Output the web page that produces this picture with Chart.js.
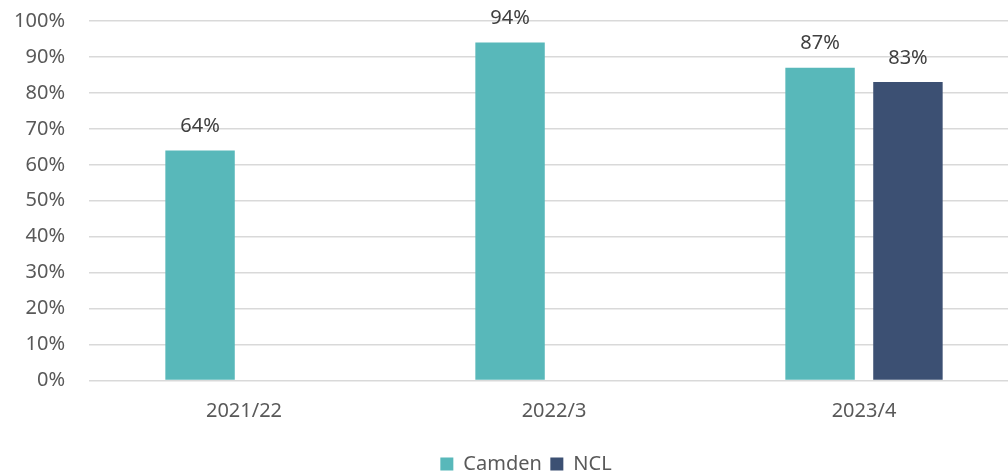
<!DOCTYPE html>
<html>
<head>
<meta charset="utf-8">
<script src="https://cdn.jsdelivr.net/npm/chart.js@4"></script>
<style>
  html, body { margin: 0; padding: 0; background: #fff; overflow: hidden; }
  #wrap { width: 1052px; height: 473px; position: relative; }
</style>
</head>
<body>
<div id="wrap"><canvas id="chart"></canvas></div>
<script>
// data
const years = ["2021/22", "2022/3", "2023/4"];
const camden = [64, 94, 87];
const ncl = [null, null, 83];
const yTicks = [0, 10, 20, 30, 40, 50, 60, 70, 80, 90, 100];

const FONT = "'Noto Sans', sans-serif";

// value labels above each bar
const valueLabels = {
  id: "valueLabels",
  afterDatasetsDraw(chart) {
    const ctx = chart.ctx;
    ctx.save();
    ctx.font = "20px " + FONT;
    ctx.fillStyle = "#404040";
    ctx.textAlign = "center";
    ctx.textBaseline = "middle";
    chart.data.datasets.forEach((ds, i) => {
      chart.getDatasetMeta(i).data.forEach((bar, j) => {
        const v = ds.data[j];
        if (v == null) return;
        ctx.fillText(v + "%", bar.x, bar.y - 24);
      });
    });
    ctx.restore();
  },
};

// push the legend a bit lower, close to the bottom edge
const legendShift = {
  id: "legendShift",
  afterLayout(chart) {
    chart.legend.top += 11;
    chart.legend.bottom += 11;
  },
};

const chart = new Chart(document.getElementById("chart"), {
  type: "bar",
  data: {
    labels: years,
    datasets: [
      {
        label: "Camden",
        data: camden,
        backgroundColor: "#58B8BA",
        categoryPercentage: 0.567,
        barPercentage: 0.79,
      },
      {
        label: "NCL",
        data: ncl,
        backgroundColor: "#3C5073",
        categoryPercentage: 0.567,
        barPercentage: 0.79,
      },
    ],
  },
  options: {
    responsive: true,
    maintainAspectRatio: false,
    animation: false,
    layout: { padding: { top: 21, left: 0, right: 0, bottom: 0 } },
    plugins: {
      legend: {
        position: "bottom",
        labels: {
          font: { family: FONT, size: 20 },
          color: "#595959",
          boxWidth: 13,
          boxHeight: 13,
          padding: 8.5,
        },
      },
      tooltip: { enabled: false },
    },
    scales: {
      x: {
        grid: { display: false },
        border: { display: false },
        ticks: {
          font: { family: FONT, size: 20 },
          color: "#595959",
          padding: 11,
        },
      },
      y: {
        min: 0,
        max: 100,
        afterFit: (scale) => {
          scale.width = 89;
          // tick padding is only meant for the horizontal gap
          scale.paddingTop = 0;
          scale.paddingBottom = 0;
        },
        afterBuildTicks: (scale) => {
          scale.ticks = yTicks.map((v) => ({ value: v }));
        },
        grid: { color: "#d9d9d9", lineWidth: 1.5, drawTicks: false },
        border: { display: false },
        ticks: {
          font: { family: FONT, size: 20 },
          color: "#595959",
          padding: 24,
          callback: (v) => v + "%",
        },
      },
      // empty spacer on the right so the plot runs past the window edge
      spacer: {
        type: "linear",
        position: "right",
        display: true,
        afterFit: (scale) => { scale.width = 33; },
        grid: { display: false },
        border: { display: false },
        ticks: { display: false },
      },
    },
  },
  plugins: [valueLabels, legendShift],
});
</script>
</body>
</html>
